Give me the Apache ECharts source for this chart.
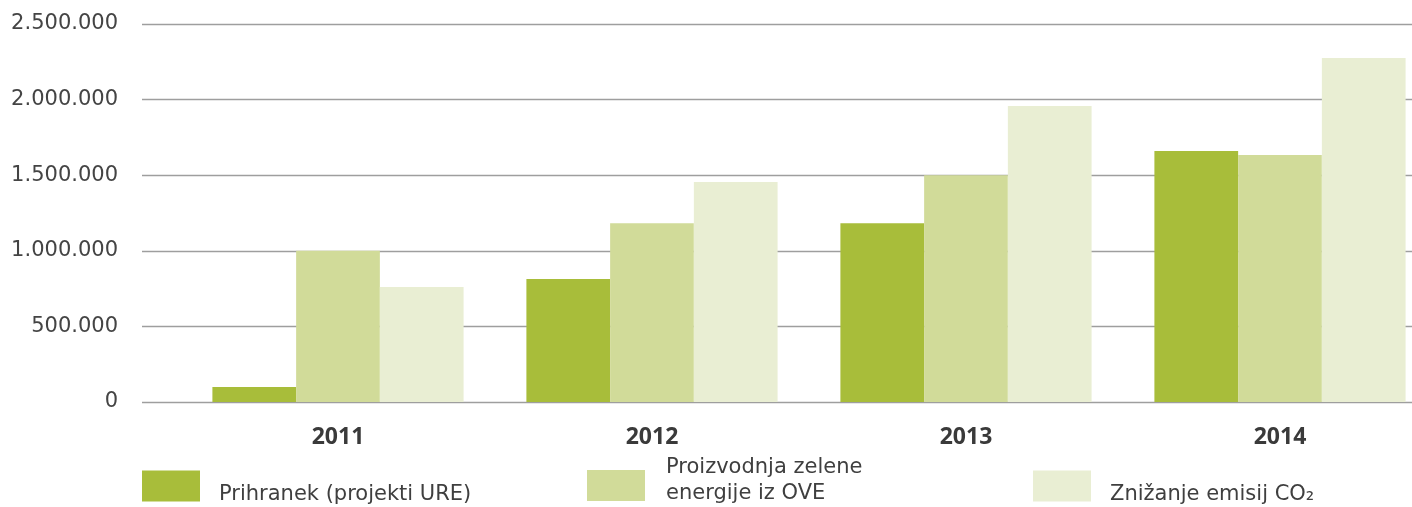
<!DOCTYPE html>
<html>
<head>
<meta charset="utf-8">
<script src="https://cdn.jsdelivr.net/npm/echarts@6/dist/echarts.min.js"></script>
<style>html,body{margin:0;padding:0;background:#fff}#c{width:1412px;height:507px}</style>
</head>
<body>
<div id="c"></div>
<script>
const categories = ['2011', '2012', '2013', '2014'];
const seriesNames = ['Prihranek (projekti URE)', 'Proizvodnja zelene\nenergije iz OVE', 'Znižanje emisij CO₂'];
const prihranek = [100000, 813000, 1183000, 1660000];
const proizvodnja = [1000000, 1183000, 1500000, 1634000];
const znizanje = [760000, 1455000, 1958000, 2275000];
const yTicks = [0, 500000, 1000000, 1500000, 2000000, 2500000];

const colors = ['#a8bd3a', '#d1db99', '#e9eed3'];
const font = 'DejaVu Sans';
const fmt = v => String(v).replace(/\B(?=(\d{3})+(?!\d))/g, '.');
const txt = {fontFamily: font, fontSize: 21, color: '#3f3f3f', lineHeight: 26};

const chart = echarts.init(document.getElementById('c'), null, {renderer: 'canvas'});
function legendFor(i, left, top) {
  return {
    data: [seriesNames[i]], left: left, top: top, orient: 'horizontal',
    itemWidth: 58, itemHeight: 31, icon: 'rect', padding: 0,
    selectedMode: false,
    formatter: name => {
      const parts = name.split('\n');
      if (parts.length === 1) return '{one|' + name + '}';
      return parts.map(s => '{l|' + s + '}').join('\n') + '\n{e| }';
    },
    textStyle: Object.assign({}, txt, {
      rich: {
        one: Object.assign({}, txt, {padding: [17, 0, 0, 14]}),
        l: Object.assign({}, txt, {padding: [0, 0, 0, 16]}),
        e: {fontFamily: font, fontSize: 8, lineHeight: 9}
      }
    })
  };
}
chart.setOption({
  animation: false,
  grid: [
    {left: 142, right: 0, top: 24, bottom: 105},
    {left: 338, right: 132, top: 24, bottom: 105}
  ],
  legend: [
    legendFor(0, 142, 467),
    legendFor(1, 587, 455),
    legendFor(2, 1033, 467)
  ],
  xAxis: [
    {type: 'category', gridIndex: 0, data: categories, show: false},
    {type: 'category', gridIndex: 1, data: categories, boundaryGap: false,
     axisLine: {show: false}, axisTick: {show: false},
     axisLabel: {fontFamily: 'Open Sans', fontSize: 23, fontWeight: 'bold', color: '#3a3a3a', margin: 24}}
  ],
  yAxis: [
    {type: 'value', gridIndex: 0, min: yTicks[0], max: yTicks[yTicks.length - 1], interval: 500000,
     axisLine: {show: false}, axisTick: {show: false},
     axisLabel: {fontFamily: font, fontSize: 21, color: '#444', margin: 24, formatter: fmt},
     splitLine: {lineStyle: {color: '#9e9e9e', width: 1.3}}},
    {type: 'value', gridIndex: 1, min: yTicks[0], max: yTicks[yTicks.length - 1], interval: 500000, show: false,
     splitLine: {show: false}}
  ],
  series: [
    {name: seriesNames[0], type: 'bar', xAxisIndex: 1, yAxisIndex: 1, data: prihranek, clip: false,
     itemStyle: {color: colors[0]}, barGap: '0%', barCategoryGap: '20%'},
    {name: seriesNames[1], type: 'bar', xAxisIndex: 1, yAxisIndex: 1, data: proizvodnja, clip: false,
     itemStyle: {color: colors[1]}, barGap: '0%', barCategoryGap: '20%'},
    {name: seriesNames[2], type: 'bar', xAxisIndex: 1, yAxisIndex: 1, data: znizanje, clip: false,
     itemStyle: {color: colors[2]}, barGap: '0%', barCategoryGap: '20%'}
  ]
});
</script>
</body>
</html>
